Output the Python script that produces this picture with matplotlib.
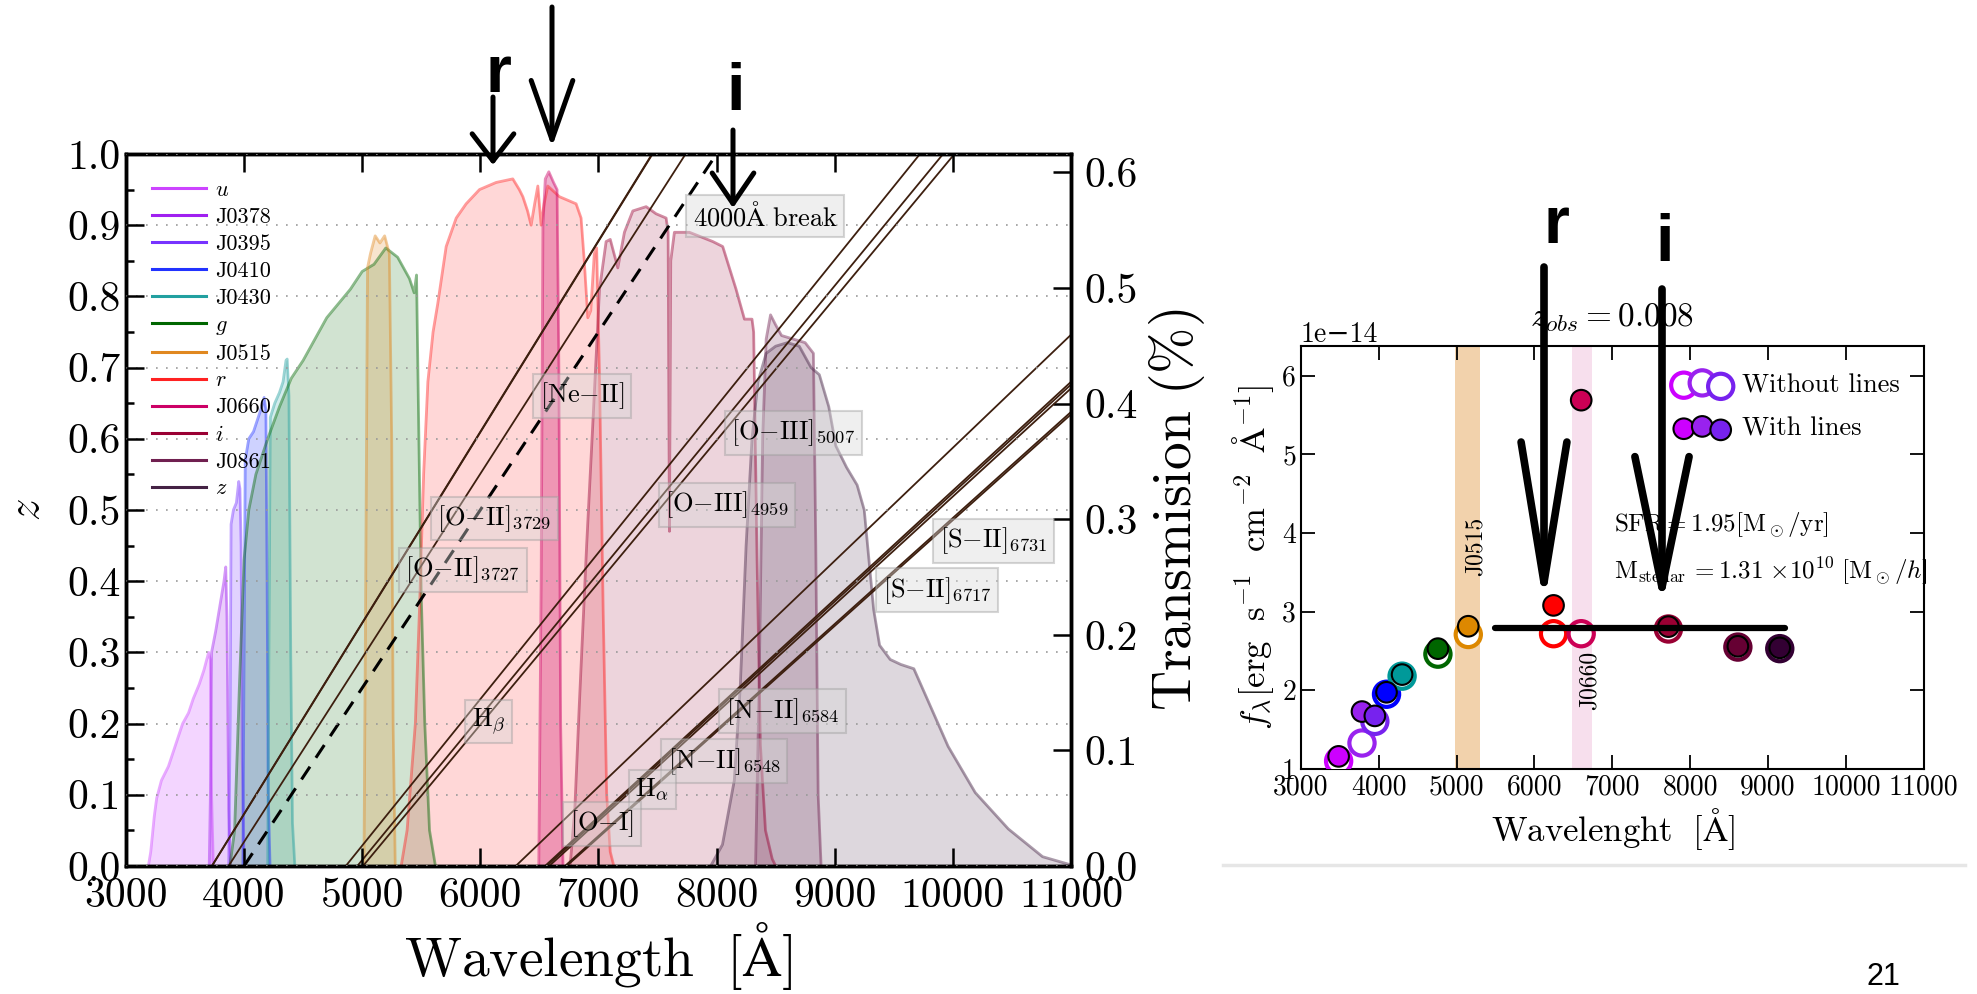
import numpy as np
import matplotlib
matplotlib.use("Agg")
import matplotlib.pyplot as plt
from matplotlib.lines import Line2D
from matplotlib.ticker import MultipleLocator, FormatStrFormatter

plt.rcParams['font.family'] = ['cmr10', 'DejaVu Serif']
plt.rcParams['mathtext.fontset'] = 'cm'
plt.rcParams['axes.formatter.use_mathtext'] = False
plt.rcParams['axes.unicode_minus'] = True

# ---- filter transmission curves (wavelength [A], height in z-axis units) ----
filters = ['u', 'J0378', 'J0395', 'J0410', 'J0430', 'g', 'J0515', 'r', 'J0660', 'i', 'J0861', 'z']
legend_labels = ['$u$', 'J0378', 'J0395', 'J0410', 'J0430', '$g$', 'J0515', '$r$', 'J0660', '$i$', 'J0861', '$z$']
colors = ['#cc44ff', '#a020f0', '#7733ff', '#2233ff', '#22a0a0', '#006600',
          '#e08820', '#ff2222', '#cc0066', '#990033', '#702050', '#442244']

u_wl = [3190, 3210, 3240, 3260, 3300, 3360, 3420, 3480, 3530, 3570, 3620, 3660, 3700, 3715, 3725, 3740]
u_tr = [0, 0.02, 0.07, 0.095, 0.12, 0.14, 0.17, 0.2, 0.215, 0.235, 0.255, 0.275, 0.30, 0.29, 0.1, 0]
j0378_wl = [3705, 3715, 3725, 3760, 3800, 3830, 3845, 3855, 3870, 3885]
j0378_tr = [0, 0.1, 0.3, 0.33, 0.37, 0.40, 0.42, 0.35, 0.08, 0]
j0395_wl = [3870, 3882, 3890, 3910, 3935, 3955, 3965, 3975, 3985, 4000]
j0395_tr = [0, 0.2, 0.48, 0.50, 0.51, 0.54, 0.53, 0.45, 0.15, 0]
j0410_wl = [3990, 4000, 4010, 4040, 4080, 4120, 4150, 4170, 4185, 4195, 4205, 4220]
j0410_tr = [0, 0.3, 0.57, 0.6, 0.61, 0.63, 0.645, 0.658, 0.64, 0.4, 0.1, 0]
j0430_wl = [4200, 4212, 4222, 4260, 4300, 4330, 4355, 4365, 4380, 4395, 4410, 4430]
j0430_tr = [0, 0.35, 0.63, 0.65, 0.665, 0.68, 0.71, 0.712, 0.66, 0.3, 0.06, 0]
g_wl = [3880, 3920, 3960, 4000, 4040, 4100, 4200, 4300, 4400, 4500, 4600, 4700, 4800, 4900,
        5000, 5100, 5200, 5300, 5400, 5440, 5460, 5480, 5500, 5530, 5570, 5620]
g_tr = [0, 0.05, 0.25, 0.43, 0.5, 0.55, 0.6, 0.645, 0.685, 0.71, 0.74, 0.77, 0.79, 0.81,
        0.835, 0.845, 0.868, 0.855, 0.825, 0.805, 0.83, 0.6, 0.38, 0.2, 0.05, 0]
j0515_wl = [5015, 5030, 5045, 5070, 5110, 5150, 5190, 5230, 5250, 5262, 5280]
j0515_tr = [0, 0.4, 0.84, 0.86, 0.885, 0.875, 0.885, 0.86, 0.6, 0.2, 0]
r_wl = [5330, 5380, 5450, 5485, 5520, 5556, 5600, 5640, 5711, 5796, 5880, 5993, 6134, 6275,
        6330, 6360, 6400, 6430, 6460, 6487, 6515, 6540, 6571, 6670, 6811, 6853, 6880, 6910,
        6935, 6965, 6985, 7010, 7040, 7070, 7100, 7130]
r_tr = [0, 0.05, 0.2, 0.36, 0.55, 0.68, 0.75, 0.79, 0.87, 0.91, 0.93, 0.95, 0.96, 0.965,
        0.95, 0.94, 0.92, 0.9, 0.93, 0.955, 0.9, 0.93, 0.955, 0.94, 0.93, 0.91, 0.85, 0.77,
        0.78, 0.86, 0.868, 0.68, 0.36, 0.1, 0.02, 0]
j0660_wl = [6495, 6515, 6530, 6550, 6580, 6620, 6650, 6665, 6680, 6700]
j0660_tr = [0, 0.4, 0.9, 0.965, 0.975, 0.96, 0.95, 0.7, 0.2, 0]
i_wl = [6760, 6800, 6839, 6900, 6952, 7009, 7065, 7100, 7164, 7220, 7291, 7404, 7488, 7573,
        7590, 7601, 7612, 7643, 7770, 7968, 8052, 8165, 8236, 8300, 8314, 8343, 8371, 8414, 8471, 8500]
i_tr = [0, 0.08, 0.23, 0.45, 0.62, 0.81, 0.877, 0.88, 0.84, 0.89, 0.92, 0.926, 0.916, 0.91,
        0.89, 0.47, 0.85, 0.89, 0.89, 0.877, 0.87, 0.81, 0.768, 0.768, 0.75, 0.43, 0.17, 0.05, 0.01, 0]
j0861_wl = [8330, 8360, 8390, 8420, 8457, 8500, 8550, 8650, 8750, 8820, 8840, 8860, 8885]
j0861_tr = [0, 0.25, 0.6, 0.74, 0.774, 0.76, 0.745, 0.74, 0.735, 0.72, 0.45, 0.1, 0]
z_wl = [7950, 8050, 8150, 8200, 8250, 8300, 8350, 8420, 8500, 8600, 8700, 8800, 8870, 8950,
        9010, 9100, 9190, 9250, 9290, 9330, 9380, 9470, 9560, 9670, 9790, 9960, 10190, 10470, 10760, 10990]
z_tr = [0, 0.03, 0.12, 0.25, 0.45, 0.6, 0.68, 0.72, 0.73, 0.735, 0.73, 0.70, 0.69, 0.645,
        0.59, 0.56, 0.535, 0.50, 0.43, 0.36, 0.31, 0.29, 0.283, 0.277, 0.232, 0.168, 0.103, 0.052, 0.013, 0.002]

curves = [(u_wl, u_tr), (j0378_wl, j0378_tr), (j0395_wl, j0395_tr), (j0410_wl, j0410_tr),
          (j0430_wl, j0430_tr), (g_wl, g_tr), (j0515_wl, j0515_tr), (r_wl, r_tr),
          (j0660_wl, j0660_tr), (i_wl, i_tr), (j0861_wl, j0861_tr), (z_wl, z_tr)]
fill_alpha = [0.22, 0.22, 0.22, 0.22, 0.2, 0.18, 0.22, 0.18, 0.3, 0.17, 0.2, 0.18]

T_MAX = 0.616  # right-axis (transmission) top

# ---- emission lines (rest wavelength) and their labels ----
line_rest = [3727, 3729, 3869, 4861, 4959, 5007, 6300, 6548, 6563, 6584, 6717, 6731]
break_rest = 4000
label_text = [r'$[\mathrm{Ne{-}II}]$', r'$[\mathrm{O{-}III}]_{5007}$', r'$[\mathrm{O{-}II}]_{3729}$',
              r'$[\mathrm{O{-}III}]_{4959}$', r'$[\mathrm{O{-}II}]_{3727}$', r'$[\mathrm{S{-}II}]_{6731}$',
              r'$[\mathrm{S{-}II}]_{6717}$', r'$\mathrm{H}_{\beta}$', r'$[\mathrm{N{-}II}]_{6584}$',
              r'$[\mathrm{N{-}II}]_{6548}$', r'$\mathrm{H}_{\alpha}$', r'$[\mathrm{O{-}I}]$',
              r'$4000\mathrm{\AA}\ \mathrm{break}$']
label_wl = [6863, 8649, 6119, 8089, 5851, 10345, 9869, 6071, 8559, 8065, 7458, 7030, 8410]
label_z = [0.66, 0.608, 0.488, 0.507, 0.416, 0.457, 0.387, 0.203, 0.217, 0.147, 0.108, 0.059, 0.913]

# ---- photometry (right panel), flux in 1e-14 erg/s/cm2/A ----
phot_wl = [3485, 3785, 3950, 4100, 4300, 4760, 5150, 6245, 6600, 7720, 8612, 9150]
flux_with = [1.16, 1.73, 1.675, 1.975, 2.20, 2.53, 2.815, 3.08, 5.69, 2.81, 2.56, 2.54]
flux_without = [1.10, 1.33, 1.605, 1.95, 2.18, 2.46, 2.71, 2.72, 2.72, 2.78, 2.55, 2.53]
marker_colors = ['#cc00ff', '#9922ee', '#7722ee', '#0000ff', '#009999', '#006600',
                 '#dd8800', '#ff0000', '#cc0055', '#990033', '#660033', '#330033']

fig = plt.figure(figsize=(19.77, 9.94), dpi=100)

# ================= left panel =================
ax = fig.add_axes([0.0637, 0.1288, 0.478, 0.7163])
ax2 = ax.twinx()
ax.set_zorder(2)
ax2.set_zorder(1)
ax.patch.set_visible(False)

for (wl, tr), c, a in zip(curves, colors, fill_alpha):
    t = np.array(tr) * T_MAX
    ax2.fill_between(wl, 0, t, color=c, alpha=a, lw=0)
    ax2.plot(wl, t, color=c, alpha=0.45, lw=2)
ax2.set_ylim(0, T_MAX)
ax2.yaxis.set_major_locator(MultipleLocator(0.1))
ax2.yaxis.set_major_formatter(FormatStrFormatter('%.1f'))
ax2.tick_params(axis='y', direction='in', length=13, width=1.8, labelsize=30, pad=10)
ax2.set_ylabel(r'$\mathrm{Transmision}\ (\%)$', fontsize=40, labelpad=6)
for s in ax2.spines.values():
    s.set_linewidth(2.5)

for lr in line_rest:
    ax.plot([lr, 2 * lr], [0, 1], color='#3d1f0f', lw=1.3)
ax.plot([break_rest, 2 * break_rest], [0, 1], color='k', lw=2.2, ls=(0, (5, 3.5)))

for txt, x, y in zip(label_text, label_wl, label_z):
    ax.text(x, y, txt, fontsize=19, ha='center', va='center', zorder=5,
            bbox=dict(boxstyle='square,pad=0.25', fc='#d8d8d8', ec='#999999', alpha=0.4, lw=1.5))

ax.set_xlim(3000, 11000)
ax.set_ylim(0, 1.0)
ax.xaxis.set_major_locator(MultipleLocator(1000))
ax.yaxis.set_major_locator(MultipleLocator(0.1))
ax.yaxis.set_minor_locator(MultipleLocator(0.05))
ax.yaxis.set_major_formatter(FormatStrFormatter('%.1f'))
ax.tick_params(which='both', direction='in', top=True, right=False, width=1.8, labelsize=30)
ax.tick_params(which='major', length=13)
ax.tick_params(which='minor', length=6)
ax.tick_params(axis='x', pad=8)
ax.yaxis.grid(True, ls=(0, (1, 5)), color='#999999', lw=1.2)
ax.set_axisbelow(False)
ax.set_xlabel(r'$\mathrm{Wavelength}\ \ [\mathrm{\AA}]$', fontsize=40, labelpad=4)
ax.set_ylabel(r'$z$', fontsize=32, labelpad=14)
for s in ax.spines.values():
    s.set_linewidth(2.5)

handles = [Line2D([], [], color=c, lw=2.2) for c in colors]
ax.legend(handles, legend_labels, loc='upper left', frameon=False, fontsize=16,
          handlelength=2.45, handletextpad=0.4, labelspacing=0.33,
          borderaxespad=0.0, bbox_to_anchor=(0.018, 0.975))

# ================= right panel =================
ax3 = fig.add_axes([0.658, 0.2264, 0.3151, 0.4256])
ax3.axvspan(4980, 5297, color='#e09030', alpha=0.4, lw=0)
ax3.axvspan(6476, 6737, color='#e080b8', alpha=0.25, lw=0)
ax3.text(5247, 3.83e-14, 'J0515', rotation=90, fontsize=17, ha='center', va='center')
ax3.text(6706, 2.12e-14, 'J0660', rotation=90, fontsize=17, ha='center', va='center')

wl_arr = np.array(phot_wl)
ax3.scatter(wl_arr, np.array(flux_without) * 1e-14, s=330, facecolors='white',
            edgecolors=marker_colors, linewidths=3, zorder=3, label='Without lines')
ax3.scatter(wl_arr, np.array(flux_with) * 1e-14, s=220, c=marker_colors,
            edgecolors='black', linewidths=1.5, zorder=4, label='With lines')
ax3.plot([5495, 9219], [2.79e-14, 2.79e-14], color='k', lw=4.5, zorder=5, solid_capstyle='round')

ax3.text(7016, 4.10e-14, r'$\mathrm{SFR}=1.95[\mathrm{M}_\odot/\mathrm{yr}]$', fontsize=18,
         ha='left', va='center')
ax3.text(7016, 3.52e-14,
         r'$\mathrm{M}_{\mathrm{stellar}}\,{=}1.31\ {\times}10^{10}\ [\mathrm{M}_\odot/h]$',
         fontsize=18, ha='left', va='center')
ax3.set_title(r'$z_{obs}=0.008$', fontsize=24, pad=14)

ax3.set_xlim(3000, 11000)
ax3.set_ylim(1e-14, 6.38e-14)
ax3.xaxis.set_major_locator(MultipleLocator(1000))
ax3.set_yticks(np.arange(1, 7) * 1e-14)
ax3.tick_params(direction='in', top=True, right=True, length=10, width=1.3, labelsize=20)
ax3.yaxis.get_offset_text().set_fontsize(20)
ax3.set_xlabel(r'$\mathrm{Wavelenght}\ \ [\mathrm{\AA}]$', fontsize=25)
ax3.set_ylabel(r'$f_\lambda[\mathrm{erg}\ \ \mathrm{s}^{-1}\ \ \mathrm{cm}^{-2}\ \ \mathrm{\AA}^{-1}]$',
               fontsize=25)
for s in ax3.spines.values():
    s.set_linewidth(1.5)
ax3.legend(loc='upper left', bbox_to_anchor=(0.585, 0.96), frameon=False, fontsize=19,
           scatterpoints=3, handletextpad=0.5, labelspacing=0.75, borderaxespad=0.0,
           handlelength=2.0)

# ================= slide overlay: arrows, letters, footer =================
ov = fig.add_axes([0, 0, 1, 1], zorder=10)
ov.set_xlim(0, 1977)
ov.set_ylim(0, 994)
ov.axis('off')

def arrow(x, y0, y1, hl, hw, lw):
    ov.annotate('', xy=(x, y1), xytext=(x, y0),
                arrowprops=dict(arrowstyle='->,head_length=%g,head_width=%g' % (hl, hw),
                                lw=lw, color='k', shrinkA=0, shrinkB=0, mutation_scale=10))

arrow(493, 897, 829, 1.95, 1.5, 3.6)
arrow(552, 987, 847, 4.25, 1.5, 3.6)
arrow(733, 864, 786, 2.2, 1.5, 3.6)
arrow(1544, 727, 388, 10.1, 1.65, 5.5)
arrow(1662, 705, 388, 9.4, 1.95, 5.5)

for x, y, s in [(498, 902, 'r'), (736, 884, 'i'), (1556, 751, 'r'), (1665, 733, 'i')]:
    ov.text(x, y, s, fontsize=48, fontweight='bold', family='Liberation Sans',
            ha='center', va='baseline')

ov.plot([1223, 1965], [129, 129], color='#e6e6e6', lw=2.5)
ov.text(1883, 9, '21', fontsize=22, family='Liberation Sans', ha='center', va='baseline')

fig.savefig('out.png', dpi=100)
